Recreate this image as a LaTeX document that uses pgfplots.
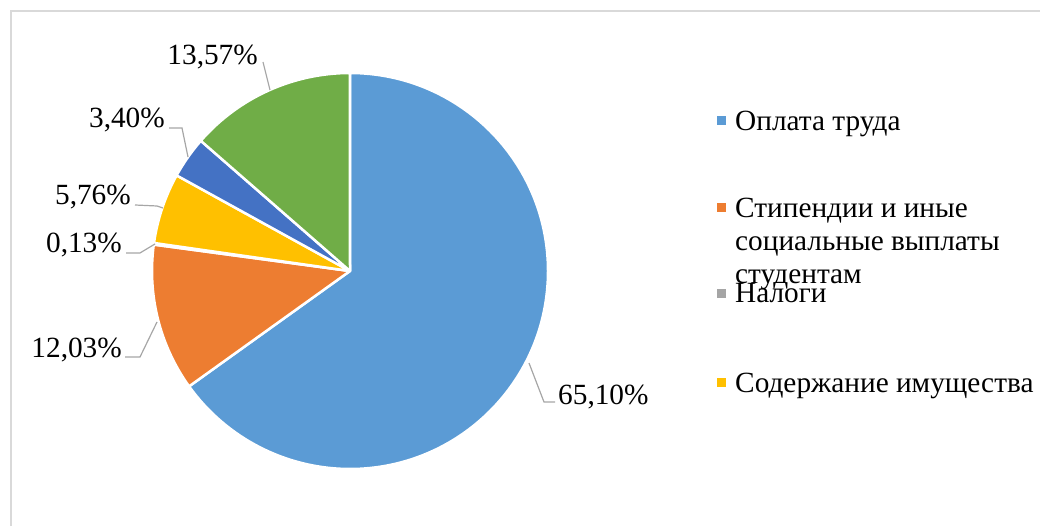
\documentclass[border=0pt]{standalone}
\usepackage{pgfplots}
\pgfplotsset{compat=1.18}
\usepackage{pgfplotstable}
\usepackage{fontspec}
\setmainfont{Liberation Serif}
\definecolor{s0}{HTML}{5B9BD5}
\definecolor{s1}{HTML}{ED7D31}
\definecolor{s2}{HTML}{A5A5A5}
\definecolor{s3}{HTML}{FFC000}
\definecolor{s4}{HTML}{4472C4}
\definecolor{s5}{HTML}{70AD47}
\definecolor{frame}{HTML}{D9D9D9}
\definecolor{leader}{HTML}{A6A6A6}
\pgfplotstableread{
value
65.10
12.03
0.13
5.76
3.40
13.57
}\piedata
\begin{document}
\fontsize{29.3bp}{33bp}\selectfont
\begin{tikzpicture}
\begin{axis}[scale only axis, width=1040bp, height=526bp,
  xmin=0, xmax=1040, ymin=0, ymax=526, hide axis, clip=false]
\coordinate (bl) at (axis cs:0,0);
\coordinate (tr) at (axis cs:1040,526);
\draw[color=frame, line width=1.5bp] (axis cs:11,0) -- (axis cs:11,515) -- (axis cs:1040,515);
\gdef\start{90}
\pgfplotsforeachungrouped \i in {0,...,5}{%
  \pgfplotstablegetelem{\i}{value}\of\piedata
  \pgfmathsetmacro\angB{\start-3.6*\pgfplotsretval}%
  \edef\temp{\noexpand\filldraw[fill=s\i, draw=white, line width=2.5bp, line join=round] (axis cs:350,255) -- ++(\start:198bp) arc[start angle=\start, end angle=\angB, radius=198bp] -- cycle;}%
  \temp
  \xdef\start{\angB}%
}
% leader lines
\draw[leader, line width=1.2bp] (axis cs:529,163) -- (axis cs:544,124) -- (axis cs:555,124);
\draw[leader, line width=1.2bp] (axis cs:125,169) -- (axis cs:140,169) -- (axis cs:157,204);
\draw[leader, line width=1.2bp] (axis cs:126,273) -- (axis cs:140,273) -- (axis cs:155,282);
\draw[leader, line width=1.2bp] (axis cs:135,321) -- (axis cs:157,320) -- (axis cs:163,318);
\draw[leader, line width=1.2bp] (axis cs:169,398) -- (axis cs:182,398) -- (axis cs:188,369);
\draw[leader, line width=1.2bp] (axis cs:263,464) -- (axis cs:270,436);
% data labels
\node[anchor=base west, inner sep=0pt] at (axis cs:558,122) {65,10\%};
\node[anchor=base east, inner sep=0pt] at (axis cs:122,169) {12,03\%};
\node[anchor=base east, inner sep=0pt] at (axis cs:122,273) {0,13\%};
\node[anchor=base east, inner sep=0pt] at (axis cs:131,321) {5,76\%};
\node[anchor=base east, inner sep=0pt] at (axis cs:165,398) {3,40\%};
\node[anchor=base east, inner sep=0pt] at (axis cs:258,461) {13,57\%};
% legend
\fill[s0] (axis cs:717,401) rectangle (axis cs:726,410);
\fill[s1] (axis cs:717,314) rectangle (axis cs:726,323);
\fill[s2] (axis cs:717,228) rectangle (axis cs:726,237);
\fill[s3] (axis cs:717,139) rectangle (axis cs:726,148);
\node[anchor=base west, inner sep=0pt] at (axis cs:735,395) {Оплата труда};
\node[anchor=base west, inner sep=0pt] at (axis cs:735,308) {Стипендии и иные};
\node[anchor=base west, inner sep=0pt] at (axis cs:735,275) {социальные выплаты};
\node[anchor=base west, inner sep=0pt] at (axis cs:735,242) {студентам};
\node[anchor=base west, inner sep=0pt] at (axis cs:735,223) {Налоги};
\node[anchor=base west, inner sep=0pt] at (axis cs:735,134) {Содержание имущества};
\end{axis}
\pgfresetboundingbox
\path[use as bounding box] (bl) rectangle (tr);
\end{tikzpicture}
\end{document}
